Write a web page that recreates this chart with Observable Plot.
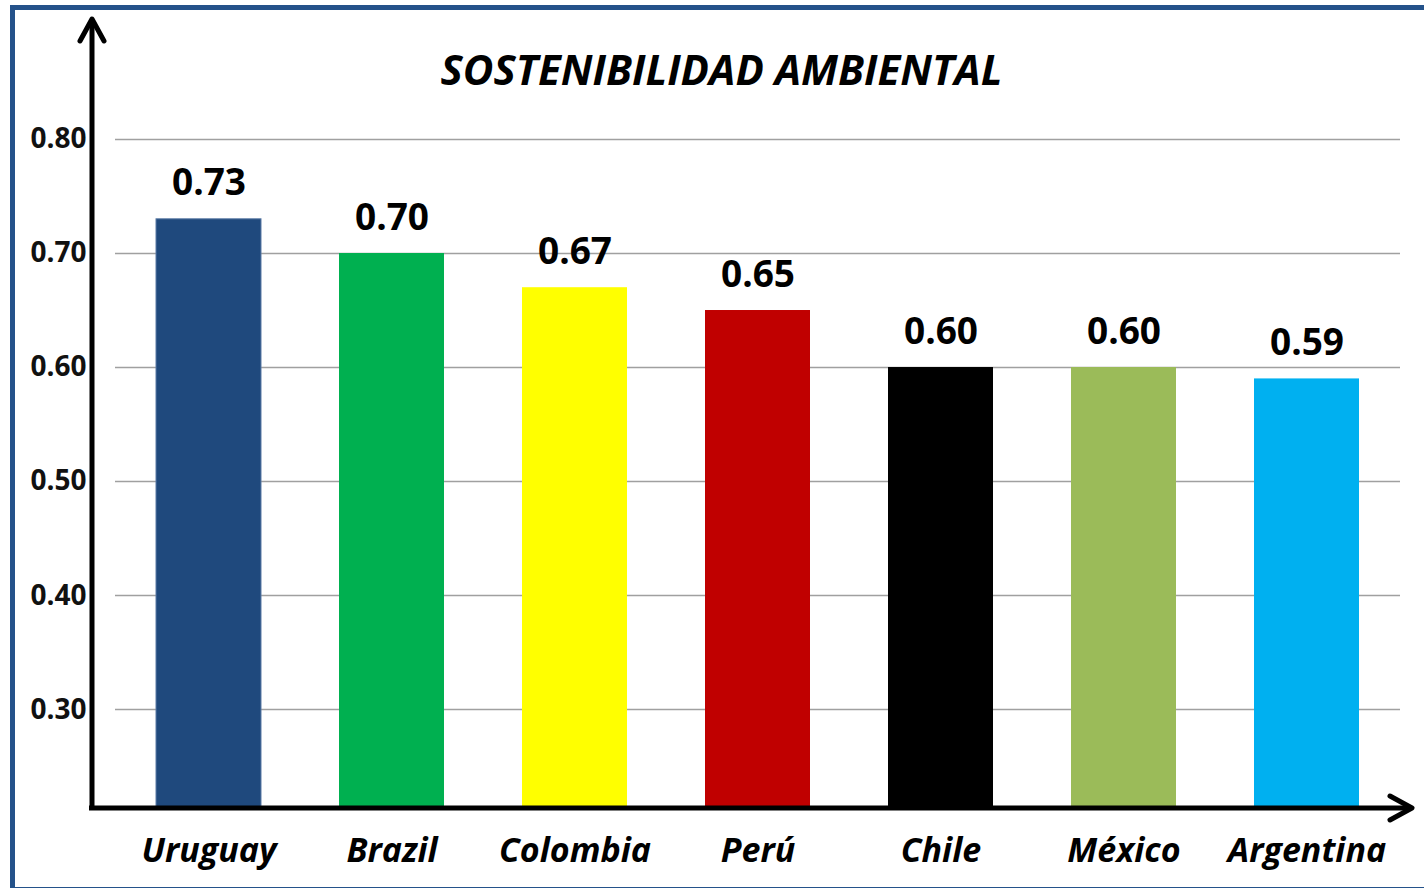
<!DOCTYPE html>
<html>
<head>
<meta charset="utf-8">
<script src="https://cdn.jsdelivr.net/npm/d3@7"></script>
<script src="https://cdn.jsdelivr.net/npm/@observablehq/plot@0.6"></script>
<style>
  html, body { margin: 0; padding: 0; background: #fff; overflow: hidden; }
  #wrap { position: relative; width: 1424px; height: 888px; overflow: hidden; }
  #border { position: absolute; left: 10px; top: 5px; width: 1470px; height: 887px; border: 5px solid #24528a; box-sizing: border-box; }
  #chart { position: absolute; left: 0; top: 0; }
  svg { font-family: "Open Sans", sans-serif; }
</style>
</head>
<body>
<div id="wrap">
  <div id="border"></div>
  <div id="chart"></div>
</div>
<script>
const title = "SOSTENIBILIDAD AMBIENTAL";
const countries = ["Uruguay", "Brazil", "Colombia", "Perú", "Chile", "México", "Argentina"];
const values = [0.73, 0.70, 0.67, 0.65, 0.60, 0.60, 0.59];
const colors = ["#1f497d", "#00b050", "#ffff00", "#c00000", "#000000", "#9bbb59", "#00b0f0"];
const yTicks = [0.30, 0.40, 0.50, 0.60, 0.70, 0.80];
const yMin = 0.2132;
const yMax = 0.80;

const data = countries.map((c, i) => ({country: c, value: values[i], color: colors[i], base: yMin}));

const W = 1424, H = 888;
const mL = 92, mR = 24, mT = 139, mB = 80;

const plot = Plot.plot({
  width: W,
  height: H,
  marginLeft: mL,
  marginRight: mR,
  marginTop: mT,
  marginBottom: mB,
  style: {background: "transparent", fontFamily: "'Open Sans', sans-serif", overflow: "visible"},
  x: {domain: countries, range: [76, 1438], padding: 0.427, axis: null},
  y: {domain: [yMin, yMax], axis: null},
  marks: [
    Plot.ruleY(yTicks, {stroke: "#a0a0a0", strokeWidth: 1.5, insetLeft: 23}),
    Plot.barY(data, {x: "country", y1: "base", y2: "value", fill: "color", stroke: d => d.country === "Uruguay" ? "#5a7aa5" : "none", strokeWidth: 1}),
    Plot.text(data, {x: "country", y: "value", text: d => d3.format(".2f")(d.value), lineAnchor: "bottom", dy: -24, fontSize: 37, fontWeight: "bold", fill: "#000"}),
    Plot.axisY({ticks: yTicks, tickFormat: d3.format(".2f"), tickSize: 0, tickPadding: 6, fontSize: 28, fontWeight: "bold", label: null, fill: "#111"}),
    Plot.axisX({tickSize: 0, tickPadding: 29, fontSize: 34, fontWeight: "bold", fontStyle: "italic", label: null, fill: "#000"}),
    Plot.text([title], {frameAnchor: "top", dx: -25, dy: -55, lineAnchor: "bottom", fontSize: 42, fontWeight: "bold", fontStyle: "italic", fill: "#000"})
  ]
});

document.getElementById("chart").appendChild(plot);

// axis lines with open arrowheads, positioned from the scales
const ys = plot.scale("y");
const yb = ys.apply(yMin);
const svg = d3.select(plot);
const g = svg.append("g").attr("fill", "none").attr("stroke", "#000").attr("stroke-width", 5).attr("stroke-linecap", "round").attr("stroke-linejoin", "round");
const x0 = mL, yTop = 19, xRight = 1412;
g.append("path").attr("d", `M${x0},${yb} V${yTop + 2}`).attr("stroke-linecap", "butt");
g.append("path").attr("d", `M${x0 - 12},${yTop + 22} L${x0},${yTop} L${x0 + 12},${yTop + 22}`);
g.append("path").attr("d", `M${x0 - 3},${yb} H${xRight - 2}`).attr("stroke-linecap", "butt");
g.append("path").attr("d", `M${xRight - 22},${yb - 12} L${xRight},${yb} L${xRight - 22},${yb + 12}`);
</script>
</body>
</html>
